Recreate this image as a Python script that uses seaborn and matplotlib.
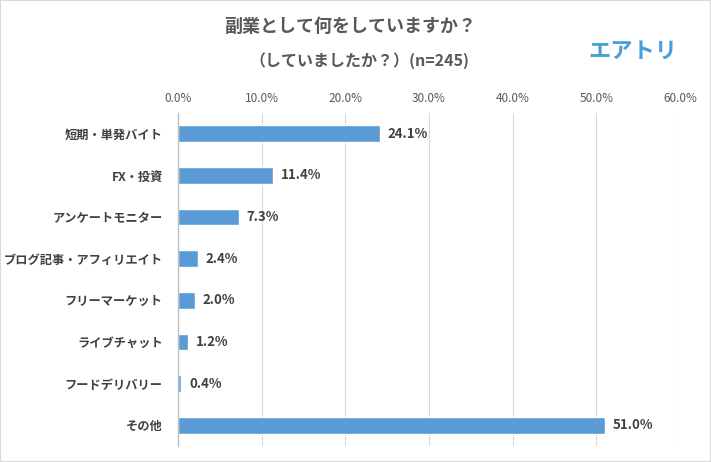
#!/usr/bin/env python3
"""Side job survey bar chart."""
import numpy as np, pandas as pd
import matplotlib
matplotlib.use('Agg')
import matplotlib.pyplot as plt
import seaborn as sns
from matplotlib.ticker import FuncFormatter
from matplotlib.patches import Rectangle

categories = ['短期・単発バイト', 'FX・投資', 'アンケートモニター', 'ブログ記事・アフィリエイト',
              'フリーマーケット', 'ライブチャット', 'フードデリバリー', 'その他']
shares = [24.1, 11.4, 7.3, 2.4, 2.0, 1.2, 0.4, 51.0]
x_ticks = [0, 10, 20, 30, 40, 50, 60]

sns.set_theme(style='white')
plt.rcParams['font.family'] = ['Noto Sans CJK JP', 'DejaVu Sans']

df = pd.DataFrame({'category': categories, 'share': shares})

fig = plt.figure(figsize=(7.11, 4.62), dpi=100)
ax = fig.add_axes([0.2504, 0.0346, 0.706, 0.7208])

sns.barplot(data=df, x='share', y='category', orient='h', color='#5b9bd5',
            saturation=1, width=0.4, ax=ax)

for p, val in zip(ax.patches, shares):
    ax.text(p.get_width() + 0.9, p.get_y() + p.get_height() / 2, f'{val:.1f}%',
            va='center', ha='left', fontsize=9.5, fontweight='bold', color='#404040')

ax.set_xlim(0, 60)
ax.set_ylim(len(categories) - 0.5, -0.5)
ax.set_xticks(x_ticks)
ax.xaxis.set_major_formatter(FuncFormatter(lambda v, _: f'{v:.1f}%'))
ax.xaxis.tick_top()
ax.tick_params(axis='x', length=0, pad=6, labelsize=8.5, labelcolor='#595959')
ax.tick_params(axis='y', length=0, pad=11, labelsize=8.8, labelcolor='#404040')
for lbl in ax.get_yticklabels():
    lbl.set_fontweight('bold')
ax.grid(axis='x', color='#d9d9d9', linewidth=0.8)
ax.set_axisbelow(True)
for s in ['top', 'right', 'bottom']:
    ax.spines[s].set_visible(False)
ax.spines['left'].set_color('#bfbfbf')
ax.spines['left'].set_linewidth(1)
ax.set_xlabel('')
ax.set_ylabel('')

fig.text(0.492, 0.942, '副業として何をしていますか？', ha='center', va='center',
         fontsize=13, fontweight='bold', color='#595959')
fig.text(0.505, 0.870, '（していましたか？）(n=245)', ha='center', va='center',
         fontsize=11.5, fontweight='bold', color='#595959')
fig.text(0.890, 0.890, 'エアトリ', ha='center', va='center',
         fontsize=16, fontweight='bold', color='#4a9fd6')

fig.patches.append(Rectangle((0, 0), 1, 1, transform=fig.transFigure,
                             fill=False, edgecolor='#d9d9d9', linewidth=1.5))

fig.savefig('out.png', dpi=100)
plt.close(fig)
